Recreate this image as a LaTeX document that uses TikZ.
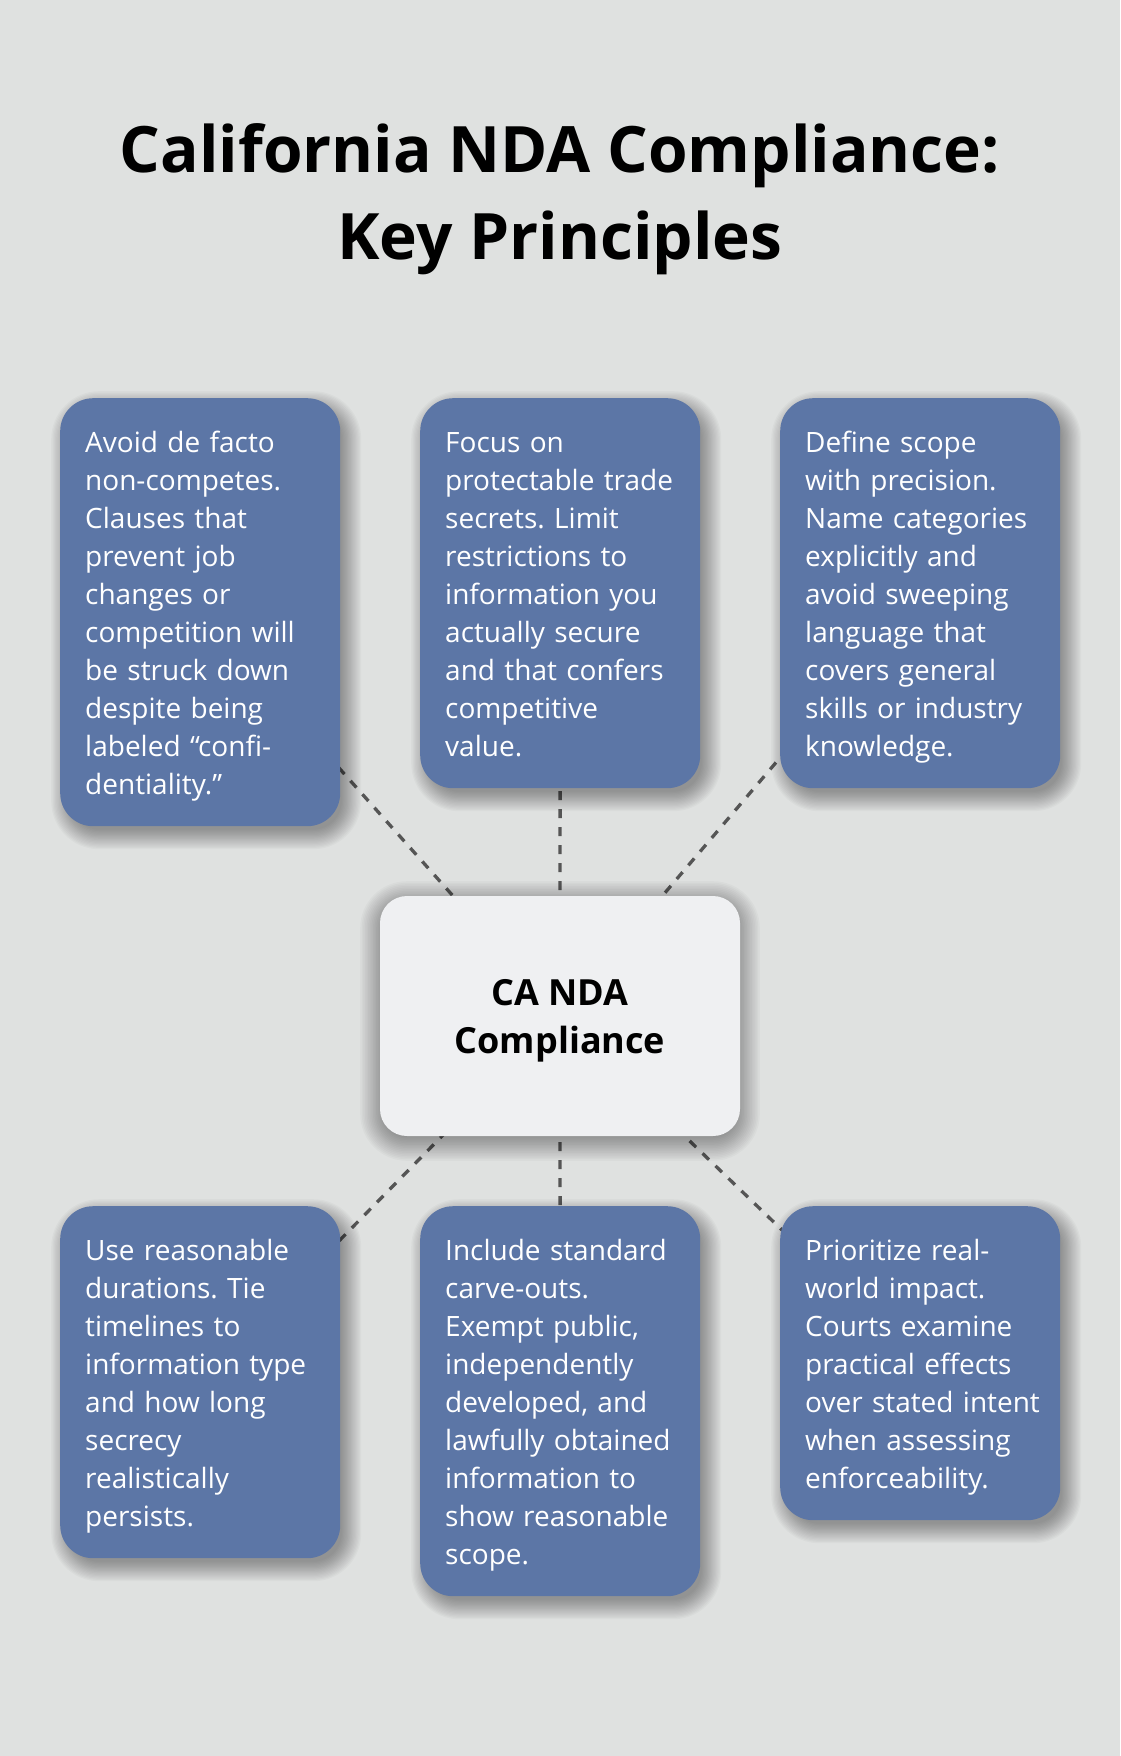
\documentclass[tikz,border=0pt]{standalone}
\usepackage{fontspec}
\setmainfont{Open Sans}
\definecolor{bgc}{HTML}{DFE1E0}
\definecolor{cardc}{HTML}{5C76A6}
\definecolor{hubc}{HTML}{EFF0F2}
\definecolor{linec}{HTML}{555555}
\pgfdeclarelayer{background}
\pgfsetlayers{background,main}
\newcommand\cardfont{\fontsize{28pt}{38pt}\selectfont\hyphenpenalty=10000\exhyphenpenalty=10000\relax}
\newcommand\cardtop{\rule{0pt}{32pt}}
\newcommand\cardbot{\rule[-10pt]{0pt}{10pt}}
% soft shadow: #1 node, #2 corner radius, #3 x offset, #4 y offset, #5 spread step
\newcommand\softshadow[5]{%
  \foreach \k in {0,...,15}{%
    \pgfmathsetmacro\e{#5*(16-\k)-6}%
    \pgfmathsetmacro\rr{max(#2+\e,4)}%
    \fill[black, opacity=0.022, rounded corners=\rr pt]
      ([shift={(#3-\e,#4-\e)}]#1.north west) rectangle ([shift={(#3+\e,#4+\e)}]#1.south east);
  }}
\begin{document}
\begin{tikzpicture}[x=1pt,y=-1pt,
  card/.style={anchor=north west, rounded corners=33pt, fill=cardc, text=white,
    inner xsep=25pt, inner ysep=22pt, text width=230pt, align=left, font=\cardfont},
  hub/.style={rounded corners=27pt, fill=hubc, text=black, inner sep=0pt,
    minimum width=360pt, minimum height=240pt, align=center,
    font=\bfseries\fontsize{36pt}{48pt}\selectfont},
  conn/.style={draw=linec, line width=3.3pt, dash pattern=on 9pt off 9pt},
  titlestyle/.style={align=center, anchor=base, text=black, inner sep=0pt,
    font=\bfseries\fontsize{64pt}{87pt}\selectfont}
]
\useasboundingbox (0,0) rectangle (1120,1756);

\node[titlestyle] (title) at (560,259) {California NDA Compliance:\\Key Principles};

\node[hub] (c) at (560,1016) {CA NDA\\\smash{Compliance}};

\node[card] (tl) at (60,398) {\cardtop Avoid~de~facto\\non-competes.\\Clauses~that\\prevent~job\\changes~or\\competition~will\\be~struck~down\\despite~being\\labeled~“confi-\\dentiality.”\cardbot};
\node[card] (tm) at (420,398) {\cardtop Focus~on\\protectable~trade\\secrets.~Limit\\restrictions~to\\information~you\\actually~secure\\and~that~confers\\competitive\\value.\cardbot};
\node[card] (tr) at (780,398) {\cardtop Define~scope\\with~precision.\\Name~categories\\explicitly~and\\avoid~sweeping\\language~that\\covers~general\\skills~or~industry\\knowledge.\cardbot};
\node[card] (bl) at (60,1206) {\cardtop Use~reasonable\\durations.~Tie\\timelines~to\\information~type\\and~how~long\\secrecy\\realistically\\persists.\cardbot};
\node[card] (bm) at (420,1206) {\cardtop Include~standard\\carve-outs.\\Exempt~public,\\independently\\developed,~and\\lawfully~obtained\\information~to\\show~reasonable\\scope.\cardbot};
\node[card] (br) at (780,1206) {\cardtop Prioritize~real-\\world~impact.\\Courts~examine\\practical~effects\\over~stated~intent\\when~assessing\\enforceability.\cardbot};

\begin{pgfonlayer}{background}
\fill[bgc] (0,0) rectangle (1120,1756);
\draw[conn] (c.center) -- (tl.center);
\draw[conn] (c.center) -- (tm.center);
\draw[conn] (c.center) -- (tr.center);
\draw[conn] (c.center) -- (bl.center);
\draw[conn] (c.center) -- (bm.center);
\draw[conn] (c.center) -- (br.center);
\softshadow{c}{27}{0}{5}{1.6}
\softshadow{tl}{33}{6}{8}{1.3}
\softshadow{tm}{33}{6}{8}{1.3}
\softshadow{tr}{33}{6}{8}{1.3}
\softshadow{bl}{33}{6}{8}{1.3}
\softshadow{bm}{33}{6}{8}{1.3}
\softshadow{br}{33}{6}{8}{1.3}
\end{pgfonlayer}
\end{tikzpicture}
\end{document}
